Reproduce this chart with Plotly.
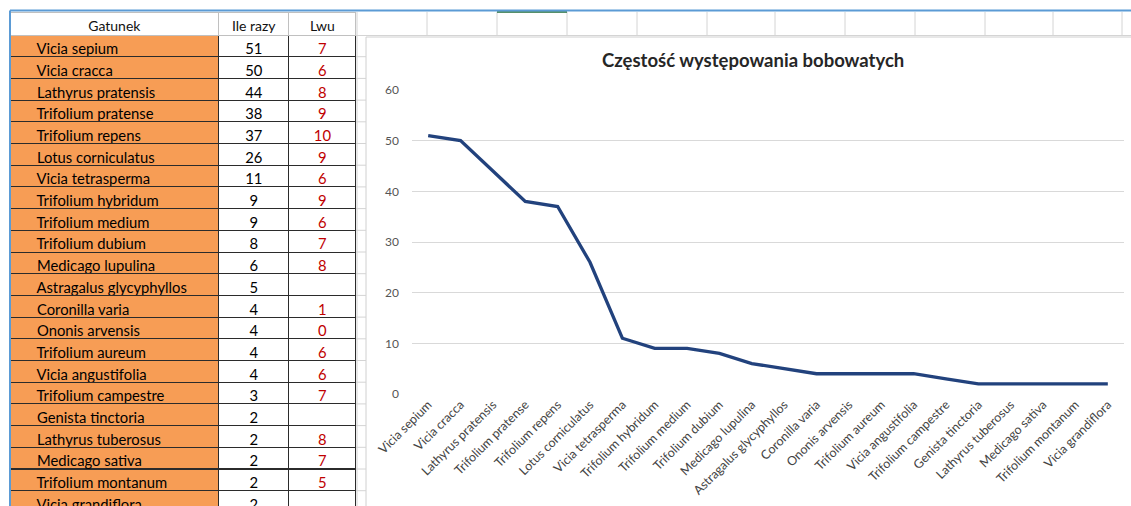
import plotly.graph_objects as go

W, H = 1131, 506

species = ["Vicia sepium", "Vicia cracca", "Lathyrus pratensis", "Trifolium pratense",
           "Trifolium repens", "Lotus corniculatus", "Vicia tetrasperma", "Trifolium hybridum",
           "Trifolium medium", "Trifolium dubium", "Medicago lupulina", "Astragalus glycyphyllos",
           "Coronilla varia", "Ononis arvensis", "Trifolium aureum", "Vicia angustifolia",
           "Trifolium campestre", "Genista tinctoria", "Lathyrus tuberosus", "Medicago sativa",
           "Trifolium montanum", "Vicia grandiflora"]
counts = [51, 50, 44, 38, 37, 26, 11, 9, 9, 8, 6, 5, 4, 4, 4, 4, 3, 2, 2, 2, 2, 2]
lwu = ["7", "6", "8", "9", "10", "9", "6", "9", "6", "7", "8", "", "1", "0", "6", "6", "7", "",
       "8", "7", "5", ""]
headers = ["Gatunek", "Ile razy", "Lwu"]
title = "Częstość występowania bobowatych"
yticks = [0, 10, 20, 30, 40, 50, 60]

FONT = "Lato, 'Open Sans', sans-serif"


def px(x):
    return x / W


def py(y):
    return 1 - y / H


fig = go.Figure()

# Table
fig.add_trace(go.Table(
    domain=dict(x=[px(10), px(356)], y=[0, py(12)]),
    columnwidth=[208, 70, 67],
    header=dict(values=headers, fill_color="white", line_color="#c0c0c0",
                font=dict(family=FONT, size=14, color="#111111"), align="center", height=23),
    cells=dict(values=[["\u00a0" * 5 + s for s in species], counts, lwu],
               fill_color=["#F79D55", "white", "white"], line_color="#2b2b2b",
               font=dict(family=FONT, size=14.8, color=["#000000", "#000000", "#C00000"]),
               align=["left", "center", "center"], height=21.7),
))

# Line chart
fig.add_trace(go.Scatter(x=species, y=counts, mode="lines",
                         line=dict(color="#22427D", width=3.3), hoverinfo="x+y"))

shapes = []
# chart area
shapes.append(dict(type="rect", xref="paper", yref="paper", x0=px(366), x1=px(1136),
                   y0=py(510), y1=py(37), line=dict(color="#d0d0d0", width=1),
                   fillcolor="white", layer="below"))
# Excel gridlines in top row
for gx in [357, 427, 497, 567, 637, 707, 775, 845, 915, 985, 1053, 1122]:
    shapes.append(dict(type="line", xref="paper", yref="paper", x0=px(gx), x1=px(gx),
                       y0=py(12), y1=py(35), line=dict(color="#d4d4d4", width=1)))
shapes.append(dict(type="line", xref="paper", yref="paper", x0=px(356), x1=px(1131),
                   y0=py(35.5), y1=py(35.5), line=dict(color="#d4d4d4", width=1)))
for i in range(22):
    yy = 35 + 21.7 * (i + 1)
    shapes.append(dict(type="line", xref="paper", yref="paper", x0=px(356), x1=px(366),
                       y0=py(yy), y1=py(yy), line=dict(color="#d4d4d4", width=1)))
shapes.append(dict(type="line", xref="paper", yref="paper", x0=px(357), x1=px(357),
                   y0=py(35), y1=0, line=dict(color="#d4d4d4", width=1)))
# selected column top marker
shapes.append(dict(type="line", xref="paper", yref="paper", x0=px(497), x1=px(567),
                   y0=py(12), y1=py(12), line=dict(color="#1e6b3a", width=1.5)))
# blue selection borders
shapes.append(dict(type="line", xref="paper", yref="paper", x0=px(10), x1=1,
                   y0=py(10.5), y1=py(10.5), line=dict(color="#5b9bd5", width=2)))
shapes.append(dict(type="line", xref="paper", yref="paper", x0=px(10), x1=px(10),
                   y0=py(10.5), y1=0, line=dict(color="#5b9bd5", width=2)))

fig.update_layout(
    width=W, height=H,
    margin=dict(l=0, r=0, t=0, b=0, pad=0, autoexpand=False),
    paper_bgcolor="white", plot_bgcolor="white",
    showlegend=False,
    shapes=shapes,
    annotations=[dict(text="<b>" + title + "</b>", xref="paper", yref="paper",
                      x=px(753), y=py(60), xanchor="center", yanchor="middle",
                      showarrow=False,
                      font=dict(family=FONT, size=18.5, color="#262626"))],
    xaxis=dict(domain=[px(412), px(1124)], showgrid=False, showline=False, ticks="",
               automargin=False,
               tickangle=-45, tickfont=dict(family=FONT, size=12.5, color="#444444"),
               range=[-0.5, len(species) - 0.5]),
    yaxis=dict(domain=[py(394), py(90)], range=[0, 60], tickvals=yticks,
               automargin=False,
               showgrid=True, gridcolor="#d9d9d9", gridwidth=1, zeroline=False,
               showline=False, tickfont=dict(family=FONT, size=12, color="#555555"),
               ticklabelstandoff=12),
)

fig.write_html("out.html", config={"displayModeBar": False},
               post_script="document.body.style.margin='0';document.body.style.overflow='hidden';")
